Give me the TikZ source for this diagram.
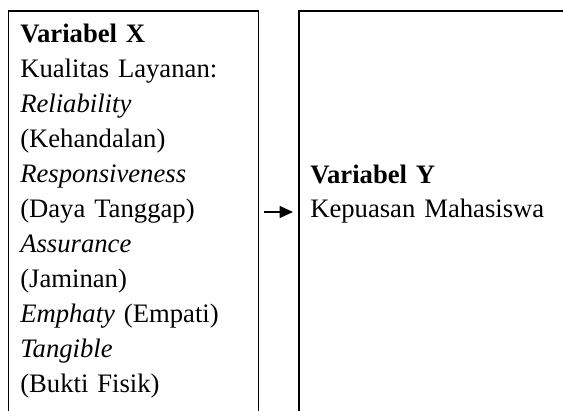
\documentclass[tikz,border=0pt]{standalone}
\usepackage{fontspec}
\setmainfont{Liberation Serif}
\usepackage{tikz}
\usetikzlibrary{arrows.meta,positioning}

\begin{document}
\begin{tikzpicture}[
    x=0.75pt, y=-0.75pt,
    every node/.style={font=\fontsize{20pt}{26.2pt}\selectfont},
    frame/.style={
        rectangle,
        draw=none,
        inner sep=0pt,
        outer sep=0pt,
        minimum height=301.5pt,
        anchor=north west
    },
    vartext/.style={
        anchor=base west,
        align=left,
        text width=180pt,
        inner sep=0pt
    },
    side/.style={
        line width=0.8pt,
        color=black
    },
    arrow/.style={
        -{Triangle[length=10pt,width=9pt]},
        line width=0.9pt,
        shorten <=4.5pt,
        shorten >=4.5pt
    }
]
\useasboundingbox (0,0) rectangle (563,410);

\node[frame, minimum width=187.3pt] (xbox) at (8.3,11) {};
\node[frame, minimum width=200.3pt] (ybox) at (299,11) {};

\node[vartext] (xtext) at ([shift={(11.7,31.7)}]xbox.north west) {
\textbf{Variabel X}\\
Kualitas Layanan:\\
\textit{Reliability}\\
(Kehandalan)\\
\textit{Responsiveness}\\
(Daya Tanggap)\\
\textit{Assurance}\\
(Jaminan)\\
\textit{Emphaty} (Empati)\\
\textit{Tangible}\\
(Bukti Fisik)
};

\node[vartext] (ytext) at ([shift={(11,172)}]ybox.north west) {
\textbf{Variabel Y}\\
Kepuasan Mahasiswa
};

\draw[side] (xbox.south west) |- (xbox.north east) -- (xbox.south east);
\draw[side] (ybox.south west) |- (ybox.north east);

\draw[arrow] (xbox.east) -- (ybox.west);

\end{tikzpicture}
\end{document}
